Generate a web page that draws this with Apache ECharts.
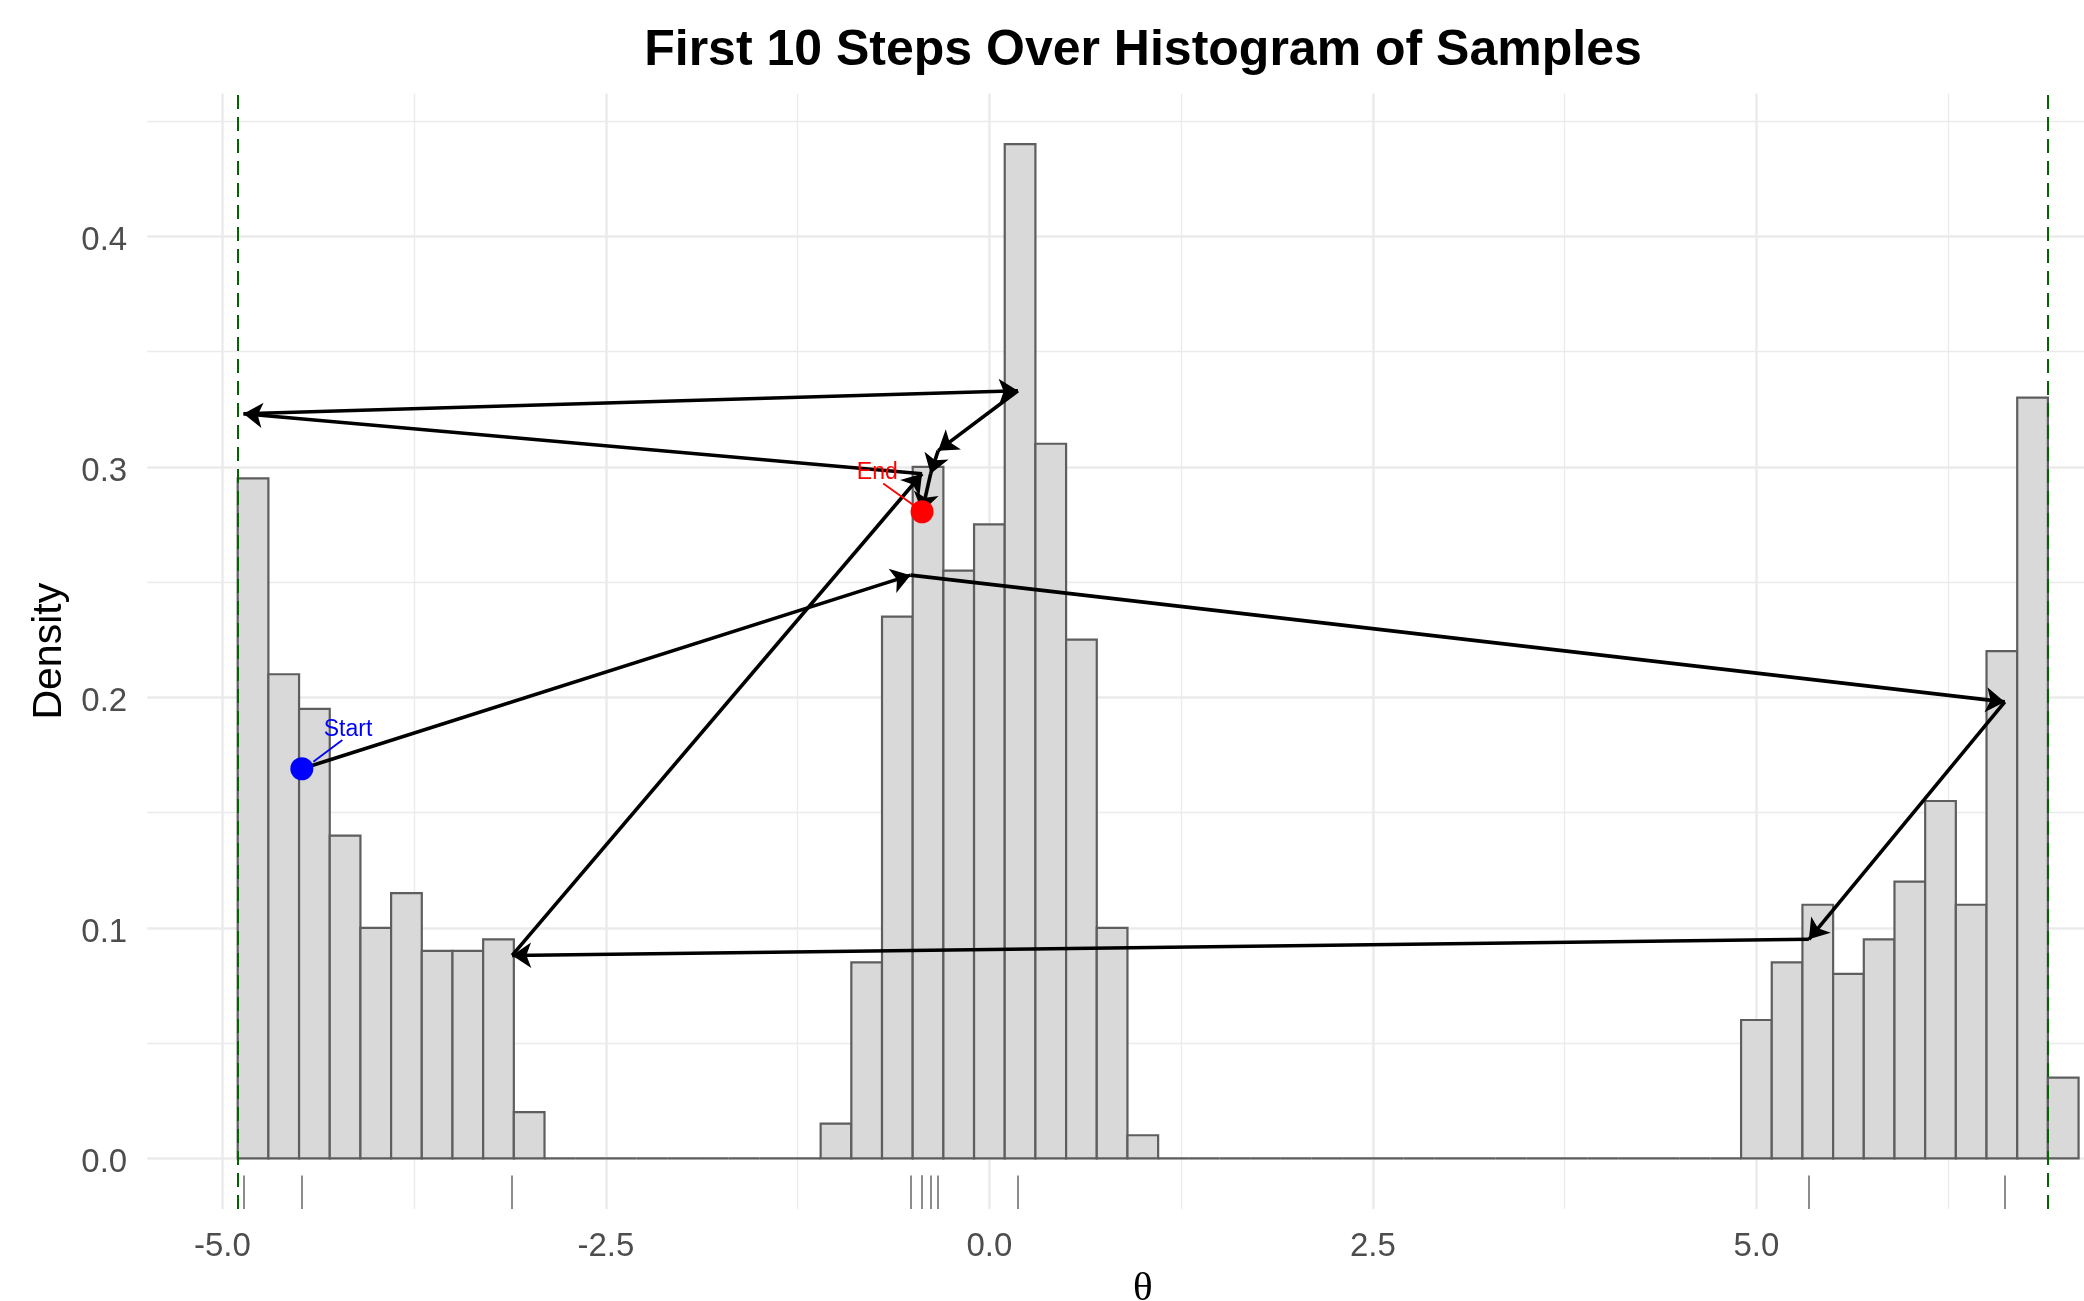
<!DOCTYPE html>
<html><head><meta charset="utf-8">
<script src="https://cdn.jsdelivr.net/npm/echarts@6/dist/echarts.min.js"></script>
<style>html,body{margin:0;padding:0;background:#fff}#c{width:2084px;height:1301px}</style>
</head><body><div id="c"></div>
<script>
// ---- data ----
const binStarts = [-4.9,-4.7,-4.5,-4.3,-4.1,-3.9,-3.7,-3.5,-3.3,-3.1,
  -2.9,-2.7,-2.5,-2.3,-2.1,-1.9,-1.7,-1.5,-1.3,
  -1.1,-0.9,-0.7,-0.5,-0.3,-0.1,0.1,0.3,0.5,0.7,0.9,
  1.1,1.3,1.5,1.7,1.9,2.1,2.3,2.5,2.7,2.9,3.1,3.3,3.5,3.7,3.9,4.1,4.3,4.5,4.7,
  4.9,5.1,5.3,5.5,5.7,5.9,6.1,6.3,6.5,6.7,6.9];
const binDensity = [0.295,0.21,0.195,0.14,0.10,0.115,0.09,0.09,0.095,0.02,
  0,0,0,0,0,0,0,0,0,
  0.015,0.085,0.235,0.30,0.255,0.275,0.44,0.31,0.225,0.10,0.01,
  0,0,0,0,0,0,0,0,0,0,0,0,0,0,0,0,0,0,0,
  0.06,0.085,0.11,0.08,0.095,0.12,0.155,0.11,0.22,0.33,0.035];
const BIN_WIDTH = 0.2;
const stepTheta = [-4.482,-0.514,6.619,5.342,-3.111,-0.439,-4.862,0.186,-0.334,-0.383,-0.439];
const stepY     = [0.169,0.253,0.198,0.095,0.088,0.297,0.323,0.333,0.307,0.297,0.2805];
const boundLines = [-4.9, 6.9];
const xTicks = [-5, -2.5, 0, 2.5, 5];
const xMinor = [-3.75, -1.25, 1.25, 3.75, 6.25];
const yTicks = [0, 0.1, 0.2, 0.3, 0.4];
const yMinor = [0.05, 0.15, 0.25, 0.35, 0.45];
const startLabel = 'Start';
const endLabel = 'End';

// ---- layout / style ----
const X_MIN = -5.49, X_MAX = 7.49, Y_MIN = -0.022, Y_MAX = 0.462;
const RUG_TOP = Y_MIN + 0.03 * (Y_MAX - Y_MIN);
const FONT = '"Liberation Sans", Arial, sans-serif';
const GRID = '#ebebeb';

const chart = echarts.init(document.getElementById('c'), null, {renderer: 'canvas'});

const hist = binStarts.map((s, i) => [s, s + BIN_WIDTH, binDensity[i]]);
const arrows = stepTheta.slice(1).map((x, i) => ({coords: [[stepTheta[i], stepY[i]], [x, stepY[i + 1]]]}));
const rug = stepTheta.map(x => ({coords: [[x, Y_MIN], [x, RUG_TOP]]}));
const gridMajor = [
  ...yTicks.map(y => ({coords: [[X_MIN, y], [X_MAX, y]]})),
  ...xTicks.map(x => ({coords: [[x, Y_MIN], [x, Y_MAX]]}))
];
const gridMinor = [
  ...yMinor.map(y => ({coords: [[X_MIN, y], [X_MAX, y]]})),
  ...xMinor.map(x => ({coords: [[x, Y_MIN], [x, Y_MAX]]}))
];
const last = stepTheta.length - 1;

const lineBase = {type: 'lines', coordinateSystem: 'cartesian2d', silent: true, animation: false};

chart.setOption({
  animation: false,
  backgroundColor: '#fff',
  title: {
    text: 'First 10 Steps Over Histogram of Samples',
    left: 1143, textAlign: 'center', top: 26, padding: 0,
    textStyle: {fontFamily: FONT, fontWeight: 'bold', fontSize: 50, color: '#000'}
  },
  grid: {left: 147.2, top: 93.4, width: 1991.2, height: 1115.6, containLabel: false, outerBoundsMode: 'none'},
  xAxis: {
    type: 'value', min: X_MIN, max: X_MAX,
    axisLine: {show: false}, axisTick: {show: false}, splitLine: {show: false},
    axisLabel: {customValues: xTicks, formatter: v => v.toFixed(1), fontFamily: FONT, fontSize: 33, color: '#4d4d4d', margin: 21},
    name: 'θ', nameLocation: 'middle', nameGap: 60,
    nameTextStyle: {fontFamily: '"Liberation Serif", "DejaVu Serif", serif', fontSize: 41, color: '#000'}
  },
  yAxis: {
    type: 'value', min: Y_MIN, max: Y_MAX,
    axisLine: {show: false}, axisTick: {show: false}, splitLine: {show: false},
    axisLabel: {customValues: yTicks, formatter: v => v.toFixed(1), fontFamily: FONT, fontSize: 33, color: '#4d4d4d', margin: 20,
      verticalAlign: 'top', lineHeight: 10},
    name: 'Density', nameLocation: 'middle', nameGap: 75, nameRotate: 90,
    nameTextStyle: {fontFamily: FONT, fontSize: 41, color: '#000'}
  },
  series: [
    Object.assign({}, lineBase, {z: 0, data: gridMinor, lineStyle: {color: GRID, width: 1.3, opacity: 1}}),
    Object.assign({}, lineBase, {z: 0, data: gridMajor, lineStyle: {color: GRID, width: 2.5, opacity: 1}}),
    {
      type: 'custom', z: 1, silent: true, animation: false,
      data: hist,
      renderItem: (params, api) => {
        const p0 = api.coord([api.value(0), 0]);
        const p1 = api.coord([api.value(1), api.value(2)]);
        return {type: 'rect', shape: {x: p0[0], y: p1[1], width: p1[0] - p0[0], height: p0[1] - p1[1]},
          style: {fill: '#d9d9d9', stroke: '#5e5e5e', lineWidth: 2.2}};
      }
    },
    Object.assign({}, lineBase, {z: 2, data: boundLines.map(x => ({coords: [[x, Y_MIN], [x, Y_MAX]]})),
      lineStyle: {color: '#006400', width: 2, type: [14, 8], opacity: 1}}),
    Object.assign({}, lineBase, {z: 2, data: rug, lineStyle: {color: '#8c8c8c', width: 2, opacity: 1}}),
    Object.assign({}, lineBase, {z: 3, data: arrows, symbol: ['none', 'arrow'], symbolSize: 19,
      lineStyle: {color: '#000', width: 3.6, opacity: 1}}),
    Object.assign({}, lineBase, {z: 4, data: [{coords: [[-4.218, 0.1815], [-4.407, 0.172]]}],
      lineStyle: {color: '#0000ff', width: 1.8, opacity: 1}}),
    Object.assign({}, lineBase, {z: 4, data: [{coords: [[-0.692, 0.2928], [-0.496, 0.2834]]}],
      lineStyle: {color: '#ff0000', width: 1.8, opacity: 1}}),
    {type: 'scatter', z: 5, silent: true, animation: false, symbol: 'circle', symbolSize: 23,
      itemStyle: {color: '#0000ff', opacity: 1}, data: [[stepTheta[0], stepY[0]]]},
    {type: 'scatter', z: 5, silent: true, animation: false, symbol: 'circle', symbolSize: 23,
      itemStyle: {color: '#ff0000', opacity: 1}, data: [[stepTheta[last], stepY[last]]]},
    {type: 'scatter', z: 6, silent: true, animation: false, symbol: 'circle', symbolSize: 2,
      itemStyle: {color: 'rgba(0,0,0,0)', opacity: 1},
      label: {show: true, position: 'inside', formatter: startLabel, color: '#0000ff', fontFamily: FONT, fontSize: 23},
      data: [[-4.181, 0.1860]]},
    {type: 'scatter', z: 6, silent: true, animation: false, symbol: 'circle', symbolSize: 2,
      itemStyle: {color: 'rgba(0,0,0,0)', opacity: 1},
      label: {show: true, position: 'inside', formatter: endLabel, color: '#ff0000', fontFamily: FONT, fontSize: 23},
      data: [[-0.731, 0.2975]]}
  ]
});
</script></body></html>
